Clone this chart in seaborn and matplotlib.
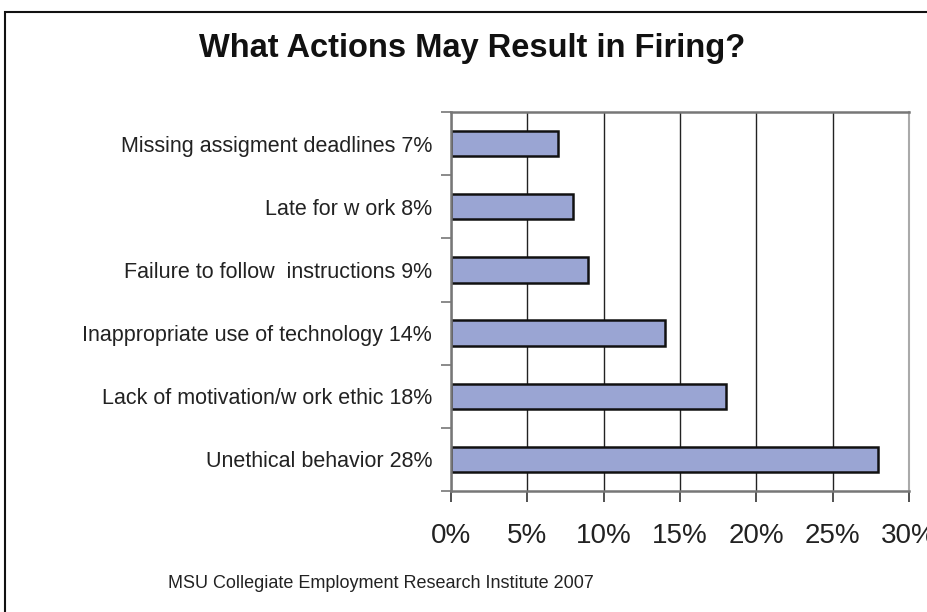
import matplotlib
matplotlib.use("Agg")
import matplotlib.pyplot as plt
import matplotlib.patches as patches
from matplotlib.ticker import PercentFormatter
import pandas as pd
import seaborn as sns

# Data
actions = ['Missing assigment deadlines', 'Late for w ork', 'Failure to follow  instructions',
           'Inappropriate use of technology', 'Lack of motivation/w ork ethic', 'Unethical behavior']
percents = [7, 8, 9, 14, 18, 28]
x_ticks = [0, 5, 10, 15, 20, 25, 30]

df = pd.DataFrame({'Action': actions, 'Percent': percents})
df['Label'] = [f"{a} {p}%" for a, p in zip(actions, percents)]

sns.set_style("white")
plt.rcParams['font.family'] = ['Liberation Sans', 'DejaVu Sans']

fig = plt.figure(figsize=(9.27, 6.12), dpi=100)
ax = fig.add_axes([451 / 927, 1 - 491 / 612, (909 - 451) / 927, (491 - 112) / 612])

sns.barplot(data=df, y='Label', x='Percent', orient='h', color='#9AA5D3',
            edgecolor='#111111', linewidth=1.8, width=0.4, saturation=1, ax=ax)

ax.set_xlim(0, 30)
ax.set_ylim(5.5, -0.5)
ax.set_xticks(x_ticks)
ax.xaxis.set_major_formatter(PercentFormatter(decimals=0))
# category boundary ticks (major) and centred labels (minor)
ax.set_yticks([i - 0.5 for i in range(len(actions) + 1)], minor=False)
ax.set_yticklabels([])
ax.set_yticks(range(len(actions)), minor=True)
ax.set_yticklabels(df['Label'], minor=True)
ax.tick_params(axis='y', which='minor', length=0, pad=13.5, labelsize=15.5, labelcolor='#222222')
ax.tick_params(axis='y', which='major', length=7, width=1.2, color='#777777', left=True)
ax.tick_params(axis='x', length=8, width=1.2, color='#333333', pad=15,
               labelsize=20, labelcolor='#222222', bottom=True)
ax.set_xlabel('')
ax.set_ylabel('')

ax.grid(axis='x', color='#222222', linewidth=1)
ax.set_axisbelow(True)
for side in ['left', 'bottom', 'top']:
    ax.spines[side].set_color('#777777')
    ax.spines[side].set_linewidth(1.8)
ax.spines['right'].set_color('#aaaaaa')
ax.spines['right'].set_linewidth(1.5)

fig.text(472 / 927, 1 - 57 / 612, 'What Actions May Result in Firing?',
         ha='center', va='baseline', fontsize=23.5, fontweight='bold', color='#111111')
fig.text(168 / 927, 1 - 583 / 612, 'MSU Collegiate Employment Research Institute 2007',
         ha='left', va='center', fontsize=13, color='#222222')

# outer chart border (cut off at right and bottom like the reference)
fig.patches.append(patches.Rectangle((5 / 927, -0.1), 1.2, 1 - 12 / 612 + 0.1,
                                     transform=fig.transFigure, fill=False,
                                     edgecolor='#111111', linewidth=1.5))

fig.savefig('out.png', dpi=100)
